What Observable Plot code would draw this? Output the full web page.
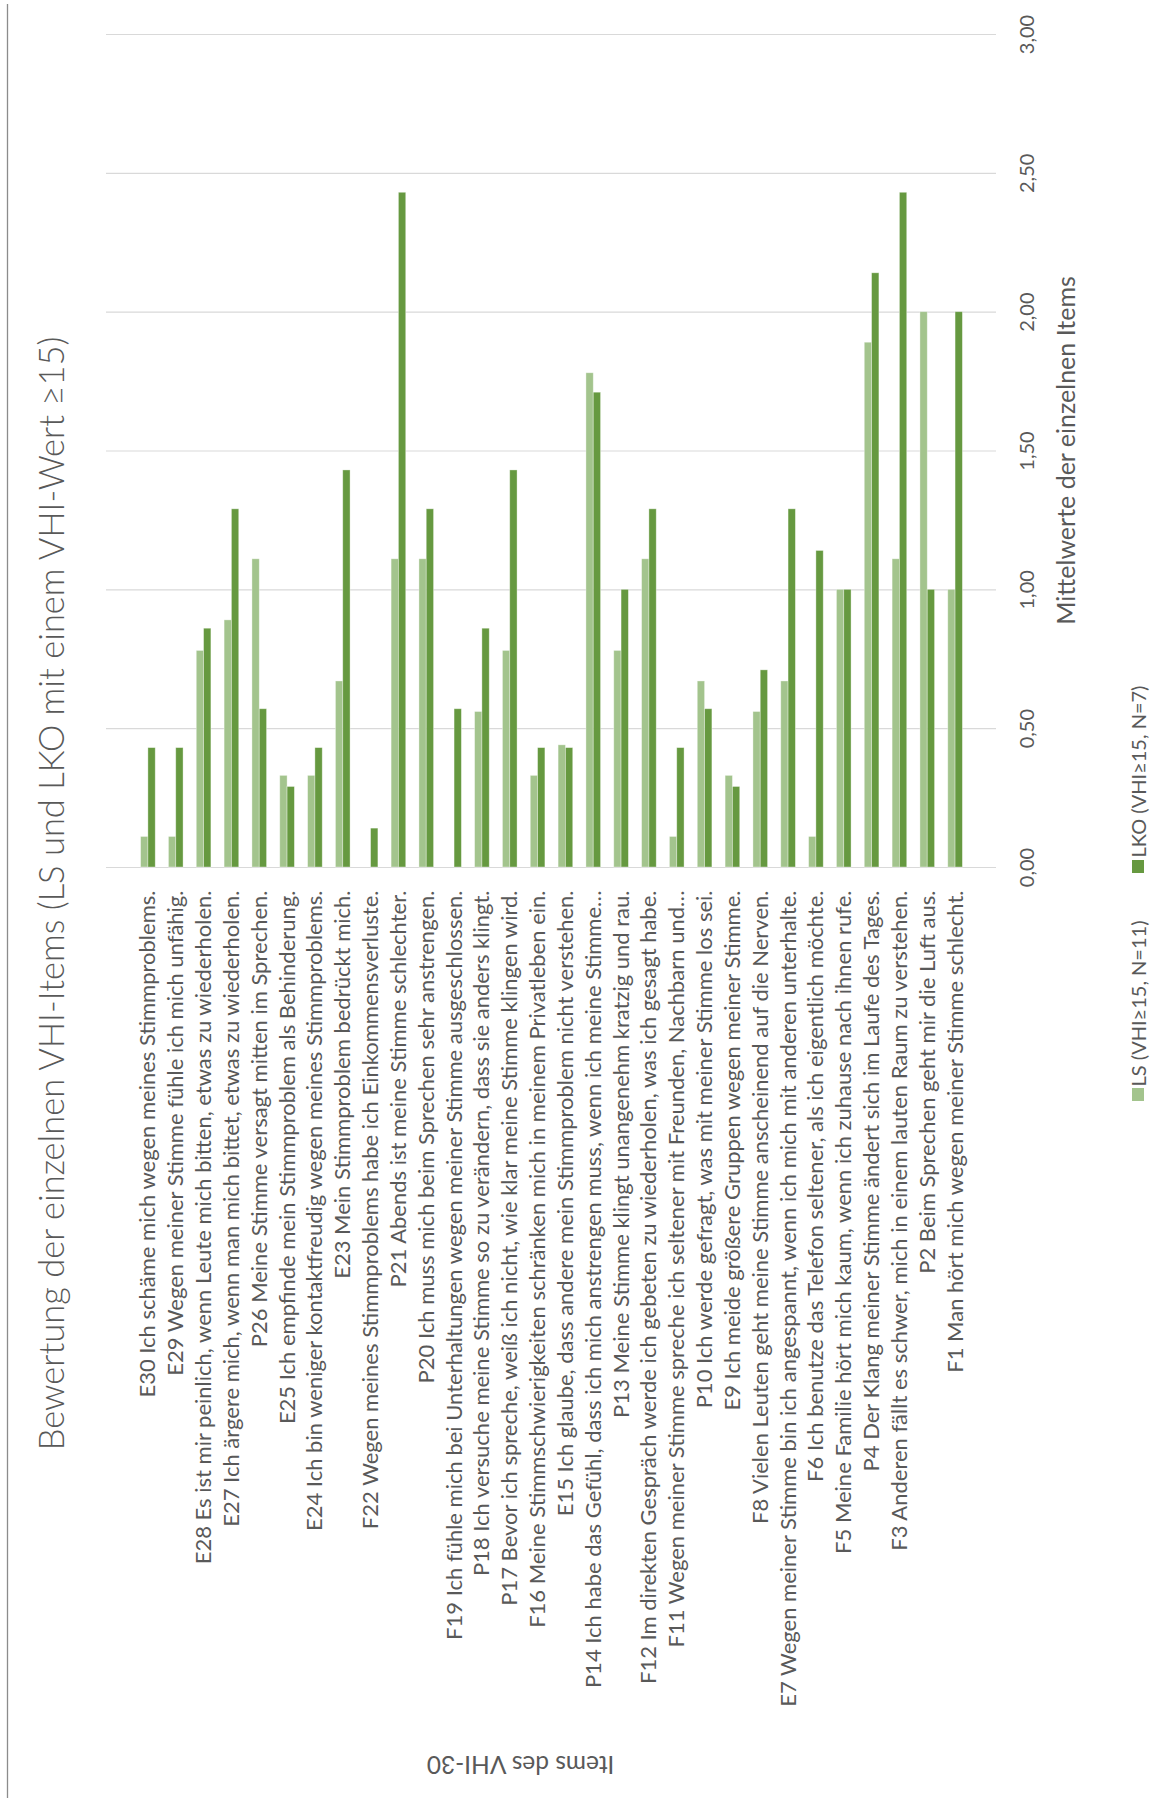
<!DOCTYPE html>
<html lang="de">
<head>
<meta charset="utf-8">
<title>Bewertung der einzelnen VHI-Items</title>
<script src="https://cdn.jsdelivr.net/npm/d3@7"></script>
<script src="https://cdn.jsdelivr.net/npm/@observablehq/plot@0.6"></script>
<style>
  html, body { margin: 0; padding: 0; background: #ffffff; overflow: hidden; }
  #chart svg { display: block; }
</style>
</head>
<body>
<div id="chart"></div>
<script>
// VHI-30 items, in the order they run along the category axis
const items = [
  "E30 Ich schäme mich wegen meines Stimmproblems.",
  "E29 Wegen meiner Stimme fühle ich mich unfähig.",
  "E28 Es ist mir peinlich, wenn Leute mich bitten, etwas zu wiederholen.",
  "E27 Ich ärgere mich, wenn man mich bittet, etwas zu wiederholen.",
  "P26 Meine Stimme versagt mitten im Sprechen.",
  "E25 Ich empfinde mein Stimmproblem als Behinderung.",
  "E24 Ich bin weniger kontaktfreudig wegen meines Stimmproblems.",
  "E23 Mein Stimmproblem bedrückt mich.",
  "F22 Wegen meines Stimmproblems habe ich Einkommensverluste.",
  "P21 Abends ist meine Stimme schlechter.",
  "P20 Ich muss mich beim Sprechen sehr anstrengen.",
  "F19 Ich fühle mich bei Unterhaltungen wegen meiner Stimme ausgeschlossen.",
  "P18 Ich versuche meine Stimme so zu verändern, dass sie anders klingt.",
  "P17 Bevor ich spreche, weiß ich nicht, wie klar meine Stimme klingen wird.",
  "F16 Meine Stimmschwierigkeiten schränken mich in meinem Privatleben ein.",
  "E15 Ich glaube, dass andere mein Stimmproblem nicht verstehen.",
  "P14 Ich habe das Gefühl, dass ich mich anstrengen muss, wenn ich meine Stimme…",
  "P13 Meine Stimme klingt unangenehm kratzig und rau.",
  "F12 Im direkten Gespräch werde ich gebeten zu wiederholen, was ich gesagt habe.",
  "F11 Wegen meiner Stimme spreche ich seltener mit Freunden, Nachbarn und…",
  "P10 Ich werde gefragt, was mit meiner Stimme los sei.",
  "E9 Ich meide größere Gruppen wegen meiner Stimme.",
  "F8 Vielen Leuten geht meine Stimme anscheinend auf die Nerven.",
  "E7 Wegen meiner Stimme bin ich angespannt, wenn ich mich mit anderen unterhalte.",
  "F6 Ich benutze das Telefon seltener, als ich eigentlich möchte.",
  "F5 Meine Familie hört mich kaum, wenn ich zuhause nach ihnen rufe.",
  "P4 Der Klang meiner Stimme ändert sich im Laufe des Tages.",
  "F3 Anderen fällt es schwer, mich in einem lauten Raum zu verstehen.",
  "P2 Beim Sprechen geht mir die Luft aus.",
  "F1 Man hört mich wegen meiner Stimme schlecht."
];

// Mean item scores per group
const lsValues = [0.11, 0.11, 0.78, 0.89, 1.11, 0.33, 0.33, 0.67, 0.00, 1.11,
                  1.11, 0.00, 0.56, 0.78, 0.33, 0.44, 1.78, 0.78, 1.11, 0.11,
                  0.67, 0.33, 0.56, 0.67, 0.11, 1.00, 1.89, 1.11, 2.00, 1.00];
const lkoValues = [0.43, 0.43, 0.86, 1.29, 0.57, 0.29, 0.43, 1.43, 0.14, 2.43,
                   1.29, 0.57, 0.86, 1.43, 0.43, 0.43, 1.71, 1.00, 1.29, 0.43,
                   0.57, 0.29, 0.71, 1.29, 1.14, 1.00, 2.14, 2.43, 1.00, 2.00];

const seriesNames = ["LS (VHI≥15, N=11)", "LKO (VHI≥15, N=7)"];
const seriesColors = ["#a3c48d", "#669940"];
const yTicks = [0, 0.5, 1, 1.5, 2, 2.5, 3];

const chartTitle = "Bewertung der einzelnen VHI-Items (LS und LKO mit einem VHI-Wert ≥15)";
const valueAxisTitle = "Mittelwerte der einzelnen Items";
const itemAxisTitle = "Items des VHI-30";

const rows = items.map((item, i) => ({item, ls: lsValues[i], lko: lkoValues[i]}));

// Frame geometry
const W = 1168, H = 1798;
const ML = 106, MR = 172, MT = 34, MB = 931;
const textColor = "#595959";
const font = "Lato, 'Open Sans', 'DejaVu Sans', sans-serif";

// Helper: place a free text relative to the page, through the frame's top-left anchor
const at = (px, py) => ({frameAnchor: "top-left", dx: px - ML, dy: py - MT, lineAnchor: "middle"});

const fmt = v => v.toFixed(2).replace(".", ",");

const chart = Plot.plot({
  width: W,
  height: H,
  marginLeft: ML,
  marginRight: MR,
  marginTop: MT,
  marginBottom: MB,
  style: {fontFamily: font, color: textColor, background: "#ffffff", overflow: "visible"},
  x: {domain: items, padding: 0, round: false, insetLeft: 28, insetRight: 27, axis: null},
  y: {domain: [0, 3], axis: null},
  marks: [
    // horizontal gridlines (incl. baseline)
    Plot.ruleY(yTicks, {stroke: "#d9d9d9", strokeWidth: 1.2}),
    // LS bars (left of each pair)
    Plot.barY(rows, {x: "item", y: "ls", fill: seriesColors[0],
      insetLeft: 6.6, insetRight: 13.9, stroke: "#ffffff", strokeWidth: 0.8, strokeOpacity: 0.45}),
    // LKO bars (right of each pair)
    Plot.barY(rows, {x: "item", y: "lko", fill: seriesColors[1],
      insetLeft: 13.9, insetRight: 6.6, stroke: "#ffffff", strokeWidth: 0.8, strokeOpacity: 0.45}),
    // value tick labels, rotated alongside the gridlines
    Plot.text(yTicks, {y: d => d, text: fmt, frameAnchor: "right", dx: 31,
      textAnchor: "middle", lineAnchor: "middle",
      rotate: -90, fontSize: 20, fill: textColor}),
    // item labels under the baseline
    Plot.text(items, {x: d => d, text: d => d, frameAnchor: "bottom", dy: 23,
      lineAnchor: "middle", rotate: -90, textAnchor: "end", fontSize: 22, fill: textColor}),
    // chart title
    Plot.text([chartTitle], {...at(52, 893), textAnchor: "middle", rotate: -90, fontSize: 34.5,
      fontWeight: 300, fill: textColor}),
    // value axis title
    Plot.text([valueAxisTitle], {...at(1066, 450), textAnchor: "middle", rotate: -90,
      fontSize: 25, fill: textColor}),
    // item axis title
    Plot.text([itemAxisTitle], {...at(520, 1763), textAnchor: "middle", rotate: 180,
      fontSize: 24.5, fill: textColor}),
    // legend entries
    Plot.text([seriesNames[0]], {...at(1139, 1086), rotate: -90, textAnchor: "start",
      fontSize: 20, fill: textColor}),
    Plot.text([seriesNames[1]], {...at(1139, 857), rotate: -90, textAnchor: "start",
      fontSize: 20, fill: textColor})
  ]
});

// legend swatches and the chart border edge
const svg = d3.select(chart);
[[1088, seriesColors[0]], [860, seriesColors[1]]].forEach(([top, color]) => {
  svg.append("rect").attr("x", 1132).attr("y", top).attr("width", 12).attr("height", 13)
    .attr("fill", color);
});
svg.append("line").attr("x1", 7.5).attr("x2", 7.5).attr("y1", 4).attr("y2", H)
  .attr("stroke", "#8c8c8c").attr("stroke-width", 1.3);

document.getElementById("chart").appendChild(chart);
</script>
</body>
</html>
